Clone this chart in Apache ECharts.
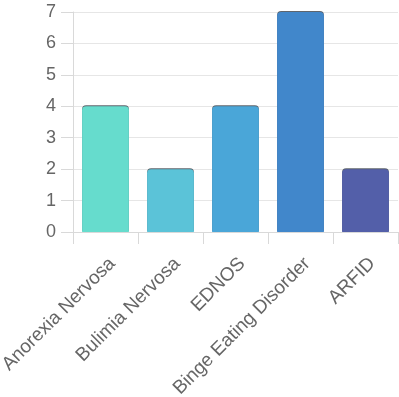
<!DOCTYPE html>
<html>
<head>
<meta charset="utf-8">
<style>
  html, body { margin: 0; padding: 0; background: #fff; }
  #chart { width: 399px; height: 397px; }
</style>
<script src="https://cdn.jsdelivr.net/npm/echarts@6/dist/echarts.min.js"></script>
</head>
<body>
<div id="chart"></div>
<script>
// Eating disorder categories and counts
const categories = ['Anorexia Nervosa', 'Bulimia Nervosa', 'EDNOS', 'Binge Eating Disorder', 'ARFID'];
const counts = [4, 2, 4, 7, 2];
const barColors = ['#66dccd', '#5bc3d8', '#4aa6d8', '#4187cb', '#535fa9'];

const chart = echarts.init(document.getElementById('chart'), null, { renderer: 'canvas' });

chart.setOption({
  animation: false,
  grid: { left: 73, right: 1, top: 12, bottom: 165, containLabel: false, outerBoundsMode: 'none' },
  xAxis: {
    type: 'category',
    data: categories,
    axisLine: { lineStyle: { color: '#d9d9d9' } },
    axisTick: { show: true, length: 12, lineStyle: { color: '#d9d9d9' } },
    axisLabel: {
      rotate: 45,
      interval: 0,
      margin: 22,
      verticalAlign: 'top',
      color: '#666',
      fontFamily: 'Liberation Sans, Arial, sans-serif',
      fontSize: 19
    }
  },
  yAxis: {
    type: 'value',
    min: 0,
    max: 7,
    interval: 1,
    axisLine: { show: true, lineStyle: { color: '#d9d9d9' } },
    axisTick: { show: true, length: 12, lineStyle: { color: '#d9d9d9' } },
    splitLine: { lineStyle: { color: '#e6e6e6' } },
    axisLabel: {
      margin: 17,
      color: '#666',
      fontFamily: 'Liberation Sans, Arial, sans-serif',
      fontSize: 18
    }
  },
  series: [{
    type: 'bar',
    barCategoryGap: '28%',
    data: counts.map((v, i) => ({
      value: v,
      itemStyle: {
        color: barColors[i],
        borderRadius: [4, 4, 0, 0],
        // thin darker rim along the top edge
        shadowColor: 'rgba(40, 50, 60, 0.75)',
        shadowBlur: 0,
        shadowOffsetY: -1
      }
    }))
  }]
});
</script>
</body>
</html>
